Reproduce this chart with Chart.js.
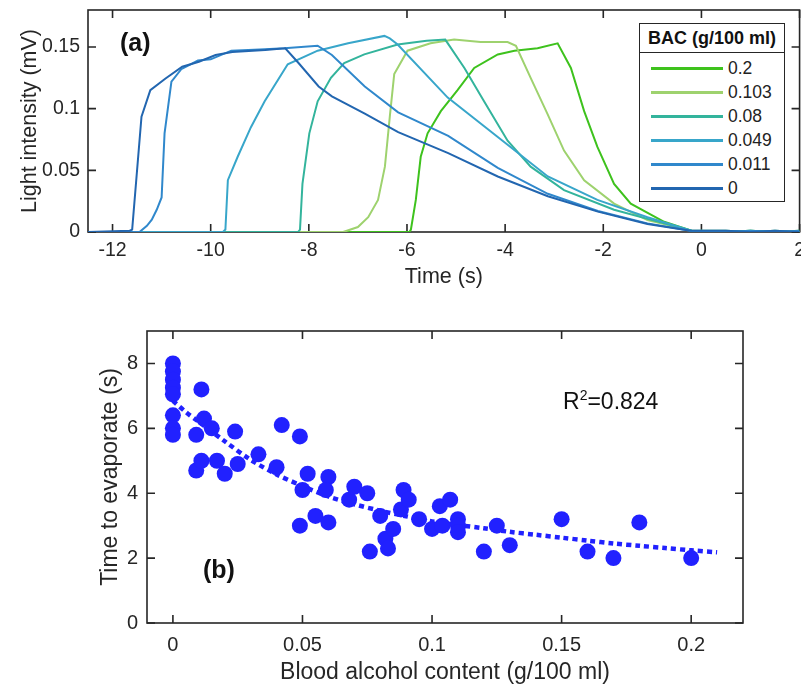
<!DOCTYPE html>
<html>
<head>
<meta charset="utf-8">
<script src="https://cdn.jsdelivr.net/npm/chart.js@4.4.1/dist/chart.umd.min.js"></script>
<style>
  html, body { margin: 0; padding: 0; background: #fff; overflow: hidden; }
  #wrap { position: relative; width: 801px; height: 686px; overflow: hidden; font-family: 'Liberation Sans', Arial, sans-serif; color: #262626; }
  #top { position: absolute; left: 0; top: -10px; }
  #bottom { position: absolute; left: 0; top: 300px; }
  .tag { position: absolute; font-weight: bold; font-size: 25px; line-height: 1; color: #111; }
  #r2 { position: absolute; left: 563px; top: 390px; font-size: 23px; line-height: 1; color: #111; }
  #r2 sup { font-size: 14px; vertical-align: 9px; line-height: 0; }
  #legend { position: absolute; left: 639px; top: 23px; width: 146px; height: 179px; box-sizing: border-box;
            border: 1.5px solid #262626; background: #fff; }
  #legend .ttl { height: 28px; line-height: 28px; border-bottom: 1.5px solid #262626; text-align: center;
                 font-weight: bold; font-size: 18px; color: #111; }
  #legend .rows { padding-top: 3px; }
  #legend .row { position: relative; height: 24px; }
  #legend .sw { position: absolute; left: 11px; top: 11px; width: 72px; height: 3px; }
  #legend .lb { position: absolute; left: 88px; top: 0; line-height: 24px; font-size: 17.5px; color: #222; }
</style>
</head>
<body>
<div id="wrap">
  <canvas id="top" width="812" height="310"></canvas>
  <canvas id="bottom" width="801" height="386"></canvas>
  <div class="tag" style="left:120px; top:30px;">(a)</div>
  <div class="tag" style="left:203px; top:557px;">(b)</div>
  <div id="r2">R<sup>2</sup>=0.824</div>
  <div id="legend"><div class="ttl">BAC (g/100 ml)</div><div class="rows" id="legendRows"></div></div>
</div>
<script>
// ---- (a) light intensity traces, one per BAC level ----
var bacLabels = ['0', '0.011', '0.049', '0.08', '0.103', '0.2'];
var bacColors = ['#2266b0', '#3088cc', '#38a6ca', '#33b49c', '#9ed26e', '#3ec21d'];

var t0   = [-12.5, -11.65, -11.6, -11.41, -11.23, -10.92, -10.58, -10.24, -9.9, -9.56, -8.89, -8.48, -8.21, -7.8, -7.53, -6.86, -6.18, -5.16, -4.15, -3.13, -2.11, -1.1, -0.22, 0.5, 1.0, 1.5, 2.0];
var v0   = [0, 0.001, 0.002, 0.0935, 0.115, 0.1245, 0.134, 0.138, 0.1435, 0.146, 0.1476, 0.149, 0.137, 0.118, 0.11, 0.096, 0.081, 0.064, 0.045, 0.029, 0.0165, 0.0065, 0.001, 0.001, 0, 0.001, 0];

var t011 = [-12.5, -11.45, -11.3, -11.2, -11.1, -11.0, -10.94, -10.8, -10.6, -10.26, -10.0, -9.58, -9.0, -8.5, -7.82, -7.53, -6.86, -6.18, -5.16, -4.15, -3.13, -2.11, -1.1, -0.22, 0.5, 1.0, 1.5, 2.0];
var v011 = [0, 0, 0.005, 0.01, 0.018, 0.028, 0.08, 0.122, 0.132, 0.139, 0.14, 0.147, 0.148, 0.149, 0.151, 0.1435, 0.118, 0.097, 0.078, 0.052, 0.031, 0.017, 0.007, 0.001, 0, 0.001, 0, 0.001];

var t049 = [-12.5, -9.75, -9.7, -9.65, -9.45, -9.18, -8.9, -8.43, -7.82, -7.2, -6.46, -6.35, -6.19, -5.17, -4.15, -3.13, -2.12, -1.1, -0.2, 0.5, 1.0, 1.5, 2.0];
var v049 = [0, 0, 0.002, 0.042, 0.061, 0.085, 0.106, 0.136, 0.147, 0.153, 0.159, 0.157, 0.152, 0.109, 0.077, 0.045, 0.026, 0.012, 0.001, 0.001, 0, 0.001, 0];

var t08  = [-12.5, -8.22, -8.18, -8.13, -7.99, -7.82, -7.55, -7.28, -6.87, -6.19, -5.6, -5.22, -4.83, -4.43, -3.95, -3.48, -2.8, -1.78, -0.76, -0.2, 0.5, 1.0, 1.5, 2.0];
var v08  = [0, 0, 0.002, 0.039, 0.08, 0.106, 0.125, 0.137, 0.144, 0.152, 0.155, 0.156, 0.133, 0.106, 0.074, 0.053, 0.034, 0.018, 0.007, 0.001, 0, 0.001, 0, 0];

var t103 = [-12.5, -7.3, -7.0, -6.79, -6.59, -6.45, -6.35, -6.26, -6.19, -5.99, -5.52, -5.04, -4.5, -3.95, -3.78, -3.48, -3.14, -2.8, -2.39, -1.78, -1.1, -0.2, 0.5, 1.0, 1.5, 2.0];
var v103 = [0, 0, 0.004, 0.012, 0.026, 0.053, 0.0935, 0.128, 0.133, 0.147, 0.153, 0.156, 0.154, 0.154, 0.151, 0.125, 0.096, 0.066, 0.042, 0.023, 0.0097, 0.001, 0.001, 0, 0.001, 0];

var t2   = [-12.5, -5.95, -5.92, -5.82, -5.72, -5.58, -5.31, -4.97, -4.63, -4.15, -3.81, -3.34, -2.93, -2.66, -2.39, -2.12, -1.78, -1.44, -0.76, -0.2, 0.5, 1.0, 1.5, 2.0];
var v2   = [0, 0, 0.002, 0.026, 0.061, 0.08, 0.098, 0.115, 0.133, 0.144, 0.147, 0.149, 0.153, 0.133, 0.098, 0.069, 0.039, 0.023, 0.0083, 0.001, 0, 0.001, 0, 0.001];

var timeTicks = [-12, -10, -8, -6, -4, -2, 0, 2];
var intensityTicks = [0, 0.05, 0.1, 0.15];

// ---- (b) time to evaporate vs BAC ----
var bacX  = [0, 0, 0, 0, 0, 0, 0, 0,
             0.009, 0.011, 0.012, 0.015, 0.009, 0.011, 0.017, 0.020, 0.024, 0.025, 0.033, 0.040,
             0.042, 0.049, 0.049, 0.050, 0.052, 0.055, 0.060, 0.060, 0.059, 0.068, 0.070, 0.075,
             0.076, 0.080, 0.082, 0.083, 0.085, 0.088, 0.089, 0.091, 0.095, 0.100, 0.104, 0.103,
             0.107, 0.110, 0.110, 0.110, 0.120, 0.125, 0.130, 0.150, 0.160, 0.170, 0.180, 0.200];
var evapY = [8.0, 7.75, 7.5, 7.25, 7.05, 6.4, 6.0, 5.8,
             5.8, 7.2, 6.3, 6.0, 4.7, 5.0, 5.0, 4.6, 5.9, 4.9, 5.2, 4.8,
             6.1, 5.75, 3.0, 4.1, 4.6, 3.3, 3.1, 4.5, 4.1, 3.8, 4.2, 4.0,
             2.2, 3.3, 2.6, 2.3, 2.9, 3.5, 4.1, 3.8, 3.2, 2.9, 3.0, 3.6,
             3.8, 3.2, 3.0, 2.8, 2.2, 3.0, 2.4, 3.2, 2.2, 2.0, 3.1, 2.0];
var fitX = [0, 0.005, 0.01, 0.02, 0.03, 0.04, 0.05, 0.06, 0.07, 0.08, 0.09, 0.1, 0.11, 0.12, 0.13, 0.14, 0.15, 0.16, 0.17, 0.18, 0.19, 0.2, 0.21];
var fitY = [6.85, 6.5, 6.2, 5.6, 5.03, 4.58, 4.22, 3.9, 3.66, 3.46, 3.29, 3.13, 3.02, 2.92, 2.81, 2.72, 2.63, 2.54, 2.45, 2.38, 2.31, 2.24, 2.18];

var FONT = "'Liberation Sans', Arial, sans-serif";
var INK = '#262626';

function pts(xs, ys) {
    return xs.map(function (x, i) { return {x: x, y: ys[i]}; });
}

// box around the plot area with inward tick marks, like matlab's "box on"
var boxPlugin = {
    id: 'box',
    beforeDatasetsDraw: function (chart, args, opts) {
        var ctx = chart.ctx, a = chart.chartArea, sx = chart.scales.x, sy = chart.scales.y;
        var len = opts.len || 8;
        ctx.save();
        ctx.strokeStyle = INK;
        ctx.lineWidth = 1.6;
        ctx.strokeRect(a.left, a.top, a.right - a.left, a.bottom - a.top);
        ctx.beginPath();
        sx.ticks.forEach(function (t) {
            var px = sx.getPixelForValue(t.value);
            ctx.moveTo(px, a.bottom); ctx.lineTo(px, a.bottom - len);
            ctx.moveTo(px, a.top); ctx.lineTo(px, a.top + len);
        });
        sy.ticks.forEach(function (t) {
            var py = sy.getPixelForValue(t.value);
            ctx.moveTo(a.left, py); ctx.lineTo(a.left + len, py);
            ctx.moveTo(a.right, py); ctx.lineTo(a.right - len, py);
        });
        ctx.stroke();
        ctx.restore();
    }
};

function fixSize(w, h) {
    return function (scale) {
        if (w) scale.width = w;
        if (h) scale.height = h;
    };
}

function axisOpts(extra) {
    var o = {
        type: 'linear',
        grid: {display: false, drawTicks: false},
        border: {display: false},
        ticks: {color: INK, includeBounds: false},
        title: {display: true, color: INK}
    };
    for (var k in extra) o[k] = extra[k];
    return o;
}

// ---- top chart ----
var seriesT = [t0, t011, t049, t08, t103, t2];
var seriesV = [v0, v011, v049, v08, v103, v2];
var topSets = bacLabels.map(function (lab, i) {
    return {
        label: lab,
        data: pts(seriesT[i], seriesV[i]),
        borderColor: bacColors[i],
        borderWidth: 2,
        pointRadius: 0,
        tension: 0,
        fill: false
    };
});

new Chart(document.getElementById('top').getContext('2d'), {
    type: 'line',
    data: {datasets: topSets},
    options: {
        responsive: false,
        animation: false,
        devicePixelRatio: 1,
        layout: {padding: {top: 20, right: 10, left: 0, bottom: 0}},
        plugins: {legend: {display: false}, tooltip: {enabled: false}, box: {len: 8}},
        scales: {
            x: axisOpts({
                min: -12.5, max: 2,
                afterFit: fixSize(0, 68),
                ticks: {color: INK, includeBounds: false, stepSize: 2, padding: 7,
                        font: {family: FONT, size: 19.5},
                        callback: function (v) { return timeTicks.indexOf(v) >= 0 ? String(v) : ''; }},
                title: {display: true, text: 'Time (s)', color: INK, font: {family: FONT, size: 21.5},
                        padding: {top: 0, bottom: 10}}
            }),
            y: axisOpts({
                min: 0, max: 0.18,
                afterFit: fixSize(88, 0),
                ticks: {color: INK, includeBounds: false, stepSize: 0.05, padding: 8,
                        font: {family: FONT, size: 19.5},
                        callback: function (v) { return String(Math.round(v * 100) / 100); }},
                title: {display: true, text: 'Light intensity (mV)', color: INK, font: {family: FONT, size: 21.5},
                        padding: {top: 17, bottom: 0}}
            })
        }
    },
    plugins: [boxPlugin]
});

// legend, listed from highest BAC down
var rows = document.getElementById('legendRows');
for (var i = bacLabels.length - 1; i >= 0; i--) {
    var r = document.createElement('div');
    r.className = 'row';
    r.innerHTML = '<div class="sw" style="background:' + bacColors[i] + '"></div><div class="lb">' + bacLabels[i] + '</div>';
    rows.appendChild(r);
}

// ---- bottom chart ----
new Chart(document.getElementById('bottom').getContext('2d'), {
    type: 'scatter',
    data: {
        datasets: [{
            label: 'measured',
            data: pts(bacX, evapY),
            pointRadius: 8,
            pointBackgroundColor: '#2121ff',
            pointBorderWidth: 0,
            showLine: false
        }, {
            type: 'line',
            label: 'fit',
            data: pts(fitX, fitY),
            borderColor: '#2121ff',
            borderWidth: 4.5,
            borderDash: [5, 4],
            pointRadius: 0,
            tension: 0.3,
            fill: false
        }]
    },
    options: {
        responsive: false,
        animation: false,
        devicePixelRatio: 1,
        layout: {padding: {top: 31, right: 58, left: 0, bottom: 0}},
        plugins: {legend: {display: false}, tooltip: {enabled: false}, box: {len: 8}},
        scales: {
            x: axisOpts({
                min: -0.01, max: 0.22,
                afterFit: fixSize(0, 63),
                ticks: {color: INK, includeBounds: false, stepSize: 0.05, padding: 10,
                        font: {family: FONT, size: 20},
                        callback: function (v) { return String(Math.round(v * 100) / 100); }},
                title: {display: true, text: 'Blood alcohol content (g/100 ml)', color: INK,
                        font: {family: FONT, size: 23}, padding: {top: 0, bottom: 0}}
            }),
            y: axisOpts({
                min: 0, max: 9,
                afterFit: fixSize(147, 0),
                ticks: {color: INK, includeBounds: false, stepSize: 2, padding: 9,
                        font: {family: FONT, size: 20}},
                title: {display: true, text: 'Time to evaporate (s)', color: INK,
                        font: {family: FONT, size: 23}, padding: {top: 97, bottom: 0}}
            })
        }
    },
    plugins: [boxPlugin]
});
</script>
</body>
</html>
